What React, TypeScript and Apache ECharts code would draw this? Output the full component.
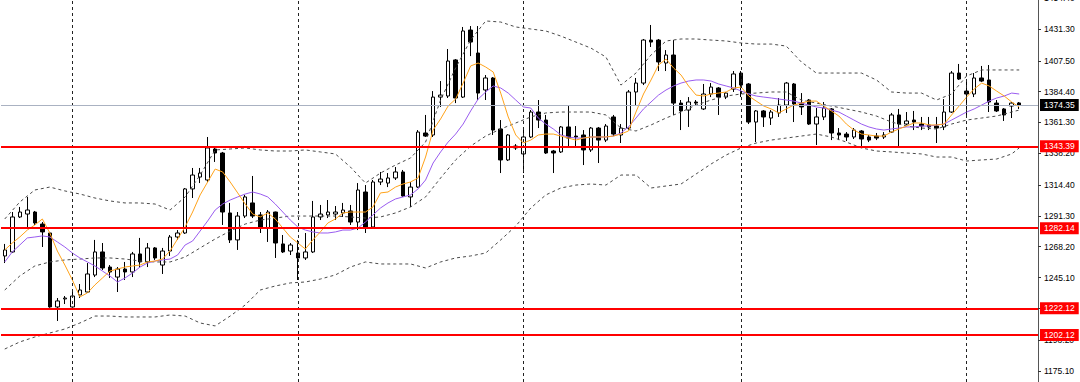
import React, { useEffect, useRef } from 'react';
import * as echarts from 'echarts';

// ---- Candles ----
const OPEN = [
  1261.3,1264.3,1290.5,1292.7,1294.2,1285.2,1278.5,1223.1,1229.1,1223.1,
  1232.1,1234.3,1247.0,1264.3,1253.0,1245.5,1251.5,1249.3,1262.8,1256.8,
  1267.3,1254.5,1265.0,1275.5,1278.5,1311.5,1320.4,1318.2,1341.4,1338.4,
  1293.5,1273.3,1291.2,1301.0,1292.0,1282.2,1294.2,1270.3,1265.0,1263.5,
  1259.8,1264.3,1290.5,1292.0,1292.7,1293.5,1295.0,1286.7,1309.2,1283.0,
  1316.7,1315.9,1319.7,1324.2,1305.5,1312.9,1353.4,1351.9,1380.3,1381.1,
  1408.1,1380.3,1430.5,1413.3,1385.6,1394.6,1356.4,1333.2,1343.6,1337.7,
  1350.4,1369.1,1363.1,1339.9,1339.2,1357.9,1351.1,1351.9,1340.7,1357.1,
  1348.1,1365.4,1351.9,1357.1,1384.1,1390.8,1423.0,1423.0,1405.8,1411.8,
  1375.8,1370.6,1376.6,1371.4,1382.6,1387.1,1380.3,1386.3,1398.3,1390.1,
  1361.6,1369.9,1364.6,1368.4,1374.3,1390.1,1375.8,1378.1,1360.1,1365.4,
  1371.4,1353.4,1352.6,1350.4,1354.9,1350.4,1351.1,1350.4,1354.1,1366.9,
  1360.1,1363.1,1360.1,1359.4,1358.6,1357.9,1369.1,1398.3,1384.8,1382.6,
  1394.6,1393.1,1375.8,1371.4,1373.6,1375.9
];
const CLOSE = [
  1265.8,1290.5,1294.2,1295.7,1286.0,1279.3,1223.1,1227.6,1229.8,1231.3,
  1235.8,1247.8,1264.3,1252.3,1249.3,1251.5,1249.3,1262.8,1256.8,1267.3,
  1259.8,1265.0,1275.5,1278.5,1311.5,1321.9,1323.4,1342.2,1338.4,1294.2,
  1273.3,1291.2,1305.5,1291.2,1282.2,1294.2,1271.0,1264.3,1269.5,1259.8,
  1264.3,1290.5,1292.7,1294.2,1294.2,1295.7,1286.7,1310.7,1282.2,1316.7,
  1318.9,1319.7,1324.2,1306.2,1312.9,1354.1,1351.1,1380.3,1381.8,1407.3,
  1379.6,1429.8,1421.5,1383.3,1394.6,1355.6,1333.2,1351.9,1342.2,1350.4,
  1369.1,1363.1,1338.4,1338.4,1357.9,1349.6,1350.4,1340.7,1357.1,1348.1,
  1358.6,1352.6,1357.1,1384.1,1390.8,1423.0,1421.5,1406.6,1411.8,1375.8,
  1369.9,1376.6,1375.8,1382.6,1387.8,1380.3,1383.3,1397.6,1389.3,1361.6,
  1369.9,1365.4,1369.1,1374.3,1390.8,1375.1,1372.9,1360.1,1365.4,1372.1,
  1353.4,1351.9,1350.4,1355.6,1348.9,1348.1,1349.6,1351.9,1366.9,1360.1,
  1362.4,1361.6,1358.6,1357.9,1357.1,1369.1,1398.3,1393.8,1382.6,1394.6,
  1392.3,1376.6,1369.9,1366.9,1375.8,1374.35
];
const LOW = [
  1256.0,1263.5,1289.7,1283.0,1284.5,1268.0,1222.5,1212.6,1225.3,1222.3,
  1229.8,1233.6,1245.5,1250.8,1244.8,1234.3,1243.3,1245.5,1252.3,1253.0,
  1258.3,1247.8,1261.3,1273.3,1277.8,1304.7,1315.9,1316.7,1331.7,1284.5,
  1271.0,1265.8,1289.7,1289.7,1278.5,1271.8,1259.8,1263.5,1262.0,1243.3,
  1258.3,1263.5,1288.2,1289.7,1288.2,1290.5,1284.5,1280.7,1278.5,1282.2,
  1314.4,1312.9,1318.2,1305.5,1298.0,1312.2,1350.4,1350.4,1372.9,1379.6,
  1375.8,1379.6,1411.0,1378.1,1378.1,1351.9,1323.4,1332.4,1340.7,1323.4,
  1349.6,1357.1,1337.7,1323.4,1338.4,1342.2,1342.2,1329.4,1339.2,1330.9,
  1346.6,1351.1,1345.9,1355.6,1374.3,1389.3,1417.8,1399.8,1399.8,1366.9,
  1355.6,1357.9,1373.6,1370.6,1380.3,1366.9,1378.8,1384.1,1380.3,1360.1,
  1346.6,1357.9,1359.4,1365.4,1368.4,1361.6,1366.9,1359.4,1344.4,1363.1,
  1348.1,1348.1,1347.4,1348.9,1342.2,1346.6,1348.1,1348.9,1353.4,1342.9,
  1359.4,1355.6,1355.6,1355.6,1345.9,1355.6,1368.4,1393.1,1366.9,1380.3,
  1391.6,1369.1,1369.1,1362.4,1364.6,1371.4
];
const HIGH = [
  1270.3,1294.2,1298.0,1305.5,1295.0,1286.7,1279.3,1229.8,1231.3,1235.1,
  1240.3,1256.0,1273.3,1271.0,1254.5,1253.0,1256.8,1264.3,1274.8,1271.0,
  1268.0,1267.3,1277.0,1280.7,1312.2,1327.2,1327.2,1350.4,1342.9,1339.2,
  1301.0,1294.2,1307.0,1321.2,1294.2,1295.7,1294.5,1277.0,1271.0,1273.3,
  1278.5,1302.5,1299.5,1303.2,1298.7,1301.0,1299.5,1315.9,1314.4,1318.2,
  1324.2,1323.4,1327.9,1325.7,1316.7,1355.6,1366.9,1384.8,1392.3,1416.3,
  1408.8,1432.8,1433.5,1433.5,1396.8,1395.3,1363.1,1352.6,1345.1,1357.1,
  1370.6,1378.1,1366.9,1340.7,1358.6,1373.6,1358.6,1355.6,1357.9,1357.9,
  1360.1,1366.9,1360.1,1385.6,1394.6,1423.8,1434.3,1423.8,1415.5,1423.0,
  1378.1,1380.3,1378.1,1390.1,1390.8,1387.8,1384.1,1399.8,1399.8,1390.8,
  1370.6,1370.6,1370.6,1379.6,1391.6,1390.8,1383.3,1378.8,1372.1,1376.6,
  1372.1,1357.1,1354.1,1357.1,1355.6,1351.9,1353.4,1354.1,1368.4,1371.4,
  1369.1,1369.9,1365.4,1365.4,1365.4,1378.8,1399.8,1405.1,1391.6,1398.3,
  1403.6,1404.3,1378.1,1372.1,1376.6,1376.6
];

// ---- Moving averages (one value per bar) ----
const MA_FAST = [
  1265.8,1271.0,1275.5,1280.7,1284.5,1289.0,1278.5,1265.0,1254.5,1243.3,
  1230.6,1233.6,1239.6,1244.8,1250.0,1251.5,1253.0,1253.8,1254.5,1256.8,
  1257.5,1259.0,1265.0,1274.0,1283.0,1294.2,1307.0,1316.7,1326.4,1324.2,
  1316.7,1308.5,1300.2,1292.7,1290.5,1293.5,1289.0,1282.2,1275.5,1271.0,
  1266.5,1273.3,1279.3,1286.0,1289.0,1293.5,1294.2,1294.2,1294.2,1298.0,
  1308.5,1309.2,1312.9,1315.2,1316.7,1319.7,1335.4,1355.6,1363.9,1373.6,
  1378.8,1390.8,1403.6,1405.8,1402.8,1399.1,1383.3,1365.4,1351.9,1345.9,
  1348.1,1351.9,1352.6,1352.6,1351.1,1349.6,1348.1,1349.6,1350.4,1350.4,
  1350.4,1351.1,1352.6,1354.9,1369.1,1382.6,1393.1,1404.3,1408.8,1402.1,
  1396.8,1388.6,1381.8,1381.1,1382.6,1383.3,1384.1,1387.1,1387.8,1381.1,
  1377.3,1373.6,1371.4,1368.4,1371.4,1374.3,1375.8,1377.3,1377.3,1373.6,
  1369.9,1366.1,1360.1,1355.6,1352.6,1351.9,1351.1,1351.1,1354.1,1356.4,
  1358.6,1360.9,1360.9,1359.4,1359.4,1360.1,1366.9,1373.6,1380.3,1386.3,
  1390.8,1388.6,1384.8,1381.1,1376.6,1372.9
];
const MA_SLOW = [
  1256.8,1264.3,1269.5,1274.8,1275.5,1276.3,1275.5,1271.8,1268.0,1263.5,
  1259.8,1256.8,1253.8,1250.0,1246.3,1241.8,1244.8,1248.5,1253.0,1256.0,
  1257.5,1258.3,1259.0,1262.0,1269.5,1272.5,1280.0,1287.5,1295.7,1300.2,
  1303.2,1305.5,1307.7,1309.2,1307.7,1305.5,1300.2,1294.2,1288.2,1283.0,
  1280.7,1279.3,1278.5,1278.5,1279.3,1280.7,1280.7,1282.2,1286.7,1292.0,
  1297.2,1301.0,1304.0,1305.5,1307.0,1311.5,1318.2,1330.9,1339.2,1346.6,
  1352.6,1360.1,1369.9,1378.8,1384.1,1388.6,1387.1,1383.3,1378.1,1372.9,
  1372.1,1364.6,1360.1,1356.4,1351.9,1350.4,1349.6,1349.6,1350.4,1350.4,
  1350.4,1351.1,1353.4,1357.9,1364.6,1371.4,1376.6,1381.8,1385.6,1388.6,
  1390.8,1392.3,1393.1,1393.1,1392.3,1390.1,1388.6,1387.1,1384.8,1382.6,
  1381.1,1380.3,1379.6,1378.8,1378.1,1377.3,1375.8,1374.3,1372.9,1372.1,
  1370.6,1369.1,1366.1,1363.1,1360.1,1357.9,1356.4,1355.6,1356.4,1357.1,
  1357.9,1357.9,1358.6,1358.6,1359.4,1360.1,1363.1,1366.1,1369.1,1371.4,
  1374.3,1377.3,1379.6,1381.1,1383.3,1382.6
];

// ---- Bollinger bands, read at every second bar (bars 0,2,...,134 and 135) ----
const BAND_BARS = [
  0,2,4,6,8,10,12,14,16,18,20,22,24,26,28,30,32,34,36,38,40,42,44,46,48,50,52,54,56,58,
  60,62,64,66,68,70,72,74,76,78,80,82,84,86,88,90,92,94,96,98,100,102,104,106,108,110,
  112,114,116,118,120,122,124,126,128,130,132,134,135
];
const BB_UPPER = [
  1289.0,1301.7,1310.7,1312.9,1310.0,1307.7,1304.7,1302.5,1301.0,1301.0,
  1300.2,1295.7,1305.5,1321.9,1340.7,1341.4,1342.2,1340.7,1339.9,1339.9,
  1340.7,1339.2,1337.7,1327.9,1315.9,1323.4,1329.4,1334.7,1346.6,1378.1,
  1402.1,1423.0,1437.3,1436.5,1432.8,1431.3,1429.8,1426.0,1421.5,1417.0,
  1410.3,1389.3,1398.3,1411.8,1422.3,1423.8,1423.8,1423.0,1422.3,1420.8,
  1420.0,1420.0,1418.5,1406.6,1398.3,1398.3,1398.3,1398.3,1393.1,1384.1,
  1383.3,1383.3,1378.1,1382.6,1396.1,1400.6,1400.6,1400.6,1400.6
];
const BB_MID = [
  1235.8,1246.3,1253.8,1256.8,1258.3,1259.0,1259.8,1259.8,1259.0,1257.5,
  1256.8,1256.8,1260.5,1267.3,1274.0,1280.0,1285.2,1288.2,1289.7,1291.2,
  1291.2,1291.2,1291.2,1290.5,1289.7,1290.5,1293.5,1298.0,1305.5,1319.7,
  1333.2,1343.6,1351.1,1356.4,1360.9,1365.4,1368.4,1369.1,1369.1,1369.1,
  1366.9,1357.1,1354.9,1359.4,1364.6,1369.1,1374.3,1378.1,1381.1,1382.6,
  1383.3,1384.1,1384.1,1378.1,1375.8,1373.6,1371.4,1369.1,1366.1,1361.6,
  1358.6,1357.1,1356.4,1360.1,1363.1,1364.6,1366.1,1369.1,1370.6
];
const BB_LOWER = [
  1191.6,1196.9,1200.6,1203.6,1206.6,1211.1,1216.3,1216.3,1215.6,1215.6,
  1215.6,1217.1,1216.3,1211.1,1208.9,1216.3,1224.6,1235.8,1238.8,1241.1,
  1241.8,1244.0,1247.1,1253.0,1256.8,1255.3,1255.3,1255.3,1252.3,1256.8,
  1259.8,1261.3,1263.5,1273.3,1283.7,1297.2,1307.0,1312.2,1314.4,1315.2,
  1314.4,1321.9,1321.9,1312.2,1313.7,1315.2,1322.7,1330.2,1336.9,1342.2,
  1345.9,1348.1,1349.6,1351.1,1352.6,1350.4,1346.6,1342.2,1339.9,1339.2,
  1338.4,1337.7,1335.4,1335.4,1332.4,1333.2,1333.9,1337.7,1342.2
];

// ---- Axis / levels ----
const Y_TICKS = [1454.4,1431.3,1407.5,1384.4,1361.3,1338.2,1314.4,1291.3,1268.2,1245.1,1222.0,1198.2,1175.1];
const CURRENT_PRICE = 1374.35;
const RED_LEVELS = [1343.39, 1282.14, 1222.12, 1202.12];
const SEPARATOR_BARS = [9, 39, 69, 98, 128];
const EMPTY_RIGHT_BARS = ['e1', 'e2'];

const CATS = OPEN.map((_, i) => 'b' + i).concat(EMPTY_RIGHT_BARS);

function spread(idx: number[], vals: number[]) {
  const out: (number | null)[] = CATS.map(() => null);
  idx.forEach((k, j) => { out[k] = vals[j]; });
  return out;
}

const FONT = 'Liberation Sans';

export default function App() {
  const ref = useRef<HTMLDivElement>(null);
  useEffect(() => {
    if (!ref.current) return;
    const chart = echarts.init(ref.current, null, { renderer: 'svg' });
    const ohlc = OPEN.map((o, i) => [o, CLOSE[i], LOW[i], HIGH[i]]);
    const bandStyle = { color: '#4a4a4a', width: 1, type: [3, 3] as any };
    const levelLabel = (bg: string) => ({
      show: true,
      position: 'end',
      formatter: (p: any) => Number(p.value).toFixed(2),
      color: '#fff',
      backgroundColor: bg,
      padding: [1, 4, 0, 4],
      fontSize: 8.5,
      lineHeight: 11,
      fontFamily: FONT,
      distance: 2,
    });
    chart.setOption({
      animation: false,
      backgroundColor: '#ffffff',
      grid: { left: 1, right: 42, top: -2, bottom: 0, containLabel: false, outerBoundsMode: 'none' },
      xAxis: { type: 'category', data: CATS, boundaryGap: true, show: false },
      yAxis: {
        type: 'value',
        position: 'right',
        min: 1166.9,
        max: 1454.5,
        splitLine: { show: false },
        axisLine: { show: true, lineStyle: { color: '#555', width: 1 } },
        axisTick: { show: true, inside: false, length: 3, customValues: Y_TICKS, lineStyle: { color: '#333' } },
        axisLabel: {
          customValues: Y_TICKS,
          formatter: (v: number) => v.toFixed(2),
          color: '#000',
          fontSize: 8.5,
          fontFamily: FONT,
          margin: 6,
        },
      },
      series: [
        {
          type: 'line',
          data: CATS.map(() => null),
          silent: true,
          z: 1,
          markLine: {
            silent: true,
            symbol: ['none', 'none'],
            label: { show: false },
            lineStyle: { color: '#222', width: 1, type: [3, 3] },
            data: SEPARATOR_BARS.map((b) => ({ xAxis: CATS[b] })),
          },
        },
        {
          type: 'candlestick',
          data: ohlc,
          barWidth: 4,
          silent: true,
          z: 2,
          itemStyle: { color: '#ffffff', color0: '#000000', borderColor: '#000000', borderColor0: '#000000', borderWidth: 1 },
        },
        { type: 'line', data: spread(BAND_BARS, BB_UPPER), connectNulls: true, showSymbol: false, silent: true, z: 3, lineStyle: bandStyle },
        { type: 'line', data: spread(BAND_BARS, BB_MID), connectNulls: true, showSymbol: false, silent: true, z: 3, lineStyle: bandStyle },
        { type: 'line', data: spread(BAND_BARS, BB_LOWER), connectNulls: true, showSymbol: false, silent: true, z: 3, lineStyle: bandStyle },
        { type: 'line', data: MA_SLOW, showSymbol: false, silent: true, z: 4, lineStyle: { color: '#9a5cf0', width: 1 } },
        { type: 'line', data: MA_FAST, showSymbol: false, silent: true, z: 4, lineStyle: { color: '#ffa31a', width: 1 } },
        {
          type: 'line',
          data: CATS.map(() => null),
          silent: true,
          z: 6,
          markLine: {
            silent: true,
            symbol: ['none', 'none'],
            data: [
              { yAxis: CURRENT_PRICE, lineStyle: { color: '#aab2c2', width: 1, type: 'solid' }, label: levelLabel('#000000') },
              ...RED_LEVELS.map((v) => ({ yAxis: v, lineStyle: { color: '#ff0000', width: 2, type: 'solid' }, label: levelLabel('#ff0000') })),
            ],
          },
        },
      ],
    } as any);
    return () => chart.dispose();
  }, []);
  return (
    <div
      ref={ref}
      style={{ position: 'fixed', left: 0, top: 0, width: 1080, height: 382, background: '#fff' }}
    />
  );
}
